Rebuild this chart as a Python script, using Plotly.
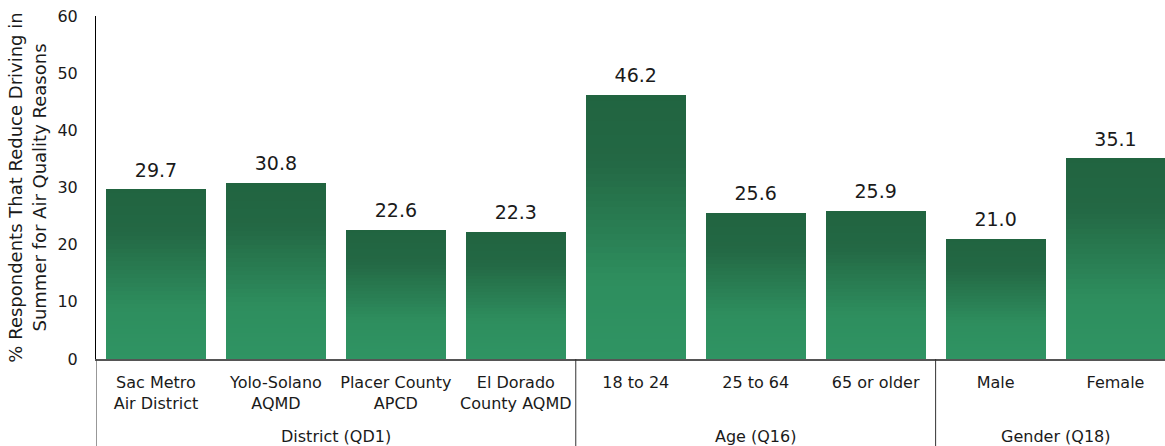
import plotly.graph_objects as go

# Survey share reducing summer driving for air-quality reasons
groups = ["District (QD1)"] * 4 + ["Age (Q16)"] * 3 + ["Gender (Q18)"] * 2
categories = [
    "Sac Metro<br>Air District",
    "Yolo-Solano<br>AQMD",
    "Placer County<br>APCD",
    "El Dorado<br>County AQMD",
    "18 to 24",
    "25 to 64",
    "65 or older",
    "Male",
    "Female",
]
values = [29.7, 30.8, 22.6, 22.3, 46.2, 25.6, 25.9, 21.0, 35.1]

FONT = "DejaVu Sans"
TEXT = "#1a1a1a"

# Vertical gradient for every bar: dark green at the top, lighter green at the base
stops = [(0.0, (0x21, 0x64, 0x40)), (0.25, (0x23, 0x68, 0x44)),
         (0.70, (0x2E, 0x8E, 0x5E)), (1.0, (0x2F, 0x94, 0x63))]


def shade(f):
    for (f0, c0), (f1, c1) in zip(stops[:-1], stops[1:]):
        if f0 <= f <= f1:
            t = (f - f0) / (f1 - f0) if f1 > f0 else 0
            r, g, b = (round(a + (b_ - a) * t) for a, b_ in zip(c0, c1))
            return f"rgb({r},{g},{b})"
    return "rgb(47,148,99)"


N_SEG = 40

fig = go.Figure()
# each bar is stacked from N_SEG equal slices of its own value, bottom to top
for i in range(N_SEG):
    f_top = 1 - (i + 0.5) / N_SEG  # 0 = top of bar, 1 = base
    fig.add_trace(go.Bar(
        x=categories,
        y=[v / N_SEG for v in values],
        marker=dict(color=shade(f_top), line=dict(width=0)),
        hoverinfo="skip",
        showlegend=False,
    ))

# value labels above each bar (transparent marker keeps the text clear of the bar)
fig.add_trace(go.Scatter(
    x=categories,
    y=values,
    mode="markers+text",
    marker=dict(size=11, opacity=0),
    text=[f"{v:.1f}" for v in values],
    textposition="top center",
    textfont=dict(family=FONT, size=19, color=TEXT),
    showlegend=False,
    hoverinfo="skip",
))

# group spans along the category index: label centred, dividers at the edges
spans = []
for idx, g in enumerate(groups):
    if spans and spans[-1][0] == g:
        spans[-1][2] = idx
    else:
        spans.append([g, idx, idx])

for name, start, end in spans:
    fig.add_annotation(
        x=(start + end) / 2, xref="x",
        y=-0.2274, yref="paper",
        text=name, showarrow=False,
        yanchor="middle",
        font=dict(family=FONT, size=16, color=TEXT),
    )
    fig.add_shape(
        type="line", xref="x", yref="paper",
        x0=start - 0.5, x1=start - 0.5, y0=0, y1=-0.3,
        line=dict(color="#333333", width=1),
    )

fig.update_layout(
    width=1165,
    height=446,
    margin=dict(l=96, r=0, t=16, b=87),
    barmode="stack",
    bargap=1 / 6,
    plot_bgcolor="white",
    paper_bgcolor="white",
    font=dict(family=FONT, size=16, color=TEXT),
)

fig.update_xaxes(
    range=[-0.5, 8.4125],
    showline=True,
    linecolor="#555555",
    linewidth=1.5,
    ticks="",
    showgrid=False,
    ticklabelstandoff=8,
    tickfont=dict(family=FONT, size=16, color=TEXT),
)

fig.update_yaxes(
    range=[0, 60],
    dtick=10,
    showgrid=False,
    zeroline=False,
    showline=True,
    linecolor="#000000",
    linewidth=1,
    ticks="",
    ticklabelstandoff=14,
    tickfont=dict(family=FONT, size=16, color=TEXT),
    title=dict(
        text="% Respondents That Reduce Driving in<br>Summer for Air Quality Reasons",
        font=dict(family=FONT, size=18, color=TEXT),
        standoff=6,
    ),
)

fig.write_html("out.html")
